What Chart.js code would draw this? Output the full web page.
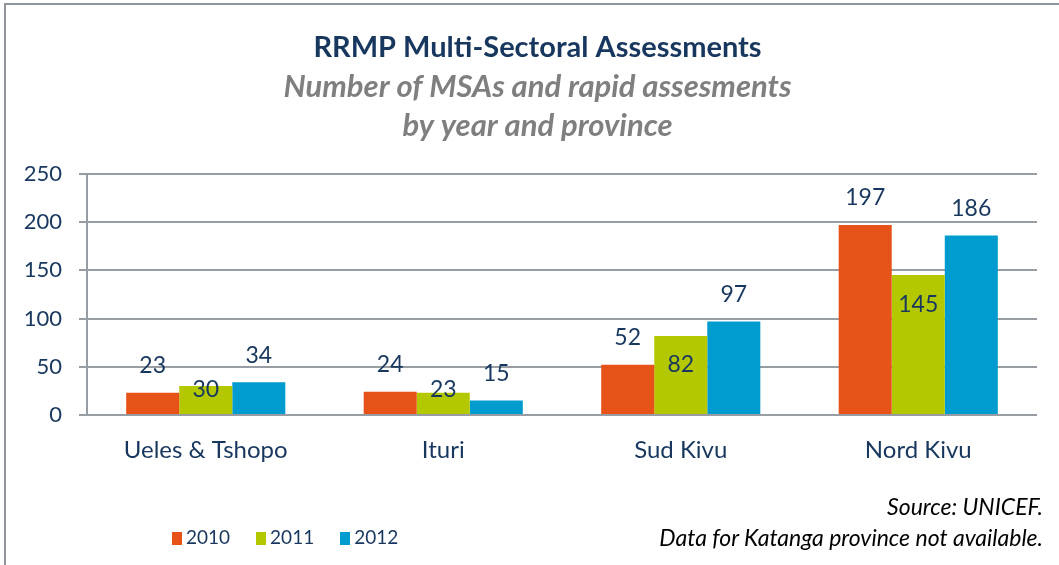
<!DOCTYPE html>
<html>
<head>
<meta charset="utf-8">
<script src="https://cdn.jsdelivr.net/npm/chart.js@4.4.0/dist/chart.umd.min.js"></script>
<style>
    html, body { margin: 0; padding: 0; background: #fff; }
    #wrap { position: relative; width: 1059px; height: 565px; overflow: hidden; font-family: Lato, "Noto Sans", sans-serif; }
    #frame { position: absolute; left: 4px; top: 3px; width: 1100px; height: 600px; border-left: 2px solid #8f959b; border-top: 2px solid #8f959b; }
    #chart { position: absolute; left: 0; top: 0; }
    #legend { position: absolute; left: 172px; top: 525px; font-size: 19px; color: #17375e; white-space: nowrap; }
    #legend span.item { display: inline-block; margin-right: 26px; }
    #legend span.box { display: inline-block; width: 10px; height: 13px; margin-right: 4px; vertical-align: -1px; }
    #source { position: absolute; right: 16px; top: 491px; font-size: 23px; font-style: italic; color: #000; text-align: right; line-height: 31px; }
</style>
</head>
<body>
<div id="wrap">
    <div id="frame"></div>
    <canvas id="chart" width="1097" height="565"></canvas>
    <div id="legend"></div>
    <div id="source">Source: UNICEF.<br>Data for Katanga province not available.</div>
</div>
<script>
// data
const provinces = ['Ueles & Tshopo', 'Ituri', 'Sud Kivu', 'Nord Kivu'];
const years = ['2010', '2011', '2012'];
const values2010 = [23, 24, 52, 197];
const values2011 = [30, 23, 82, 145];
const values2012 = [34, 15, 97, 186];
const yTicks = [0, 50, 100, 150, 200, 250];

const colors = ['#e65217', '#b4c800', '#009ccf'];
const navy = '#17375e';
const gridGray = '#979da3';
const fontFamily = 'Lato, "Noto Sans", sans-serif';

// 2011 labels sit inside the bar top, the others above it
const labelInside = [false, true, false];

const valueLabels = {
    id: 'valueLabels',
    afterDatasetsDraw(chart) {
        const ctx = chart.ctx;
        const base = chart.scales.y.getPixelForValue(0);
        ctx.save();
        ctx.font = '23px ' + fontFamily;
        ctx.fillStyle = navy;
        ctx.textAlign = 'center';
        ctx.textBaseline = 'middle';
        chart.data.datasets.forEach((ds, i) => {
            chart.getDatasetMeta(i).data.forEach((bar, j) => {
                let y;
                if (labelInside[i]) {
                    y = Math.min(bar.y + 29, base - 25);
                } else {
                    y = bar.y - 27;
                }
                ctx.fillText(String(ds.data[j]), bar.x, y);
            });
        });
        ctx.restore();
    }
};

const ctx = document.getElementById('chart').getContext('2d');
const chart = new Chart(ctx, {
    type: 'bar',
    data: {
        labels: provinces,
        datasets: [values2010, values2011, values2012].map((vals, i) => ({
            label: years[i],
            data: vals,
            backgroundColor: colors[i],
            borderWidth: 0,
            categoryPercentage: 0.67,
            barPercentage: 1.0
        }))
    },
    options: {
        responsive: false,
        animation: false,
        events: [],
        layout: {
            // canvas is wider than the page so the titles centre like the original
            padding: {left: 0, right: 22, top: 0, bottom: 90}
        },
        plugins: {
            legend: { display: false },
            tooltip: { enabled: false },
            title: {
                display: true,
                text: 'RRMP Multi-Sectoral Assessments',
                color: navy,
                font: { family: fontFamily, size: 29, weight: 'bold', lineHeight: 1.2 },
                padding: { top: 30, bottom: 3 }
            },
            subtitle: {
                display: true,
                text: ['Number of MSAs and rapid assesments', 'by year and province'],
                color: '#7f7f7f',
                font: { family: fontFamily, size: 31, weight: 'bold', style: 'italic', lineHeight: 1.258 },
                padding: { top: 0, bottom: 28 }
            }
        },
        scales: {
            x: {
                grid: { display: false, drawTicks: false },
                border: { display: false },
                ticks: {
                    color: navy,
                    padding: 21,
                    font: { family: fontFamily, size: 24 }
                },
                afterFit: function(scale) { scale.height = 60; }
            },
            y: {
                min: 0,
                max: 250,
                afterBuildTicks: function(scale) {
                    scale.ticks = yTicks.map(v => ({ value: v }));
                },
                grid: {
                    color: gridGray,
                    lineWidth: 2,
                    tickLength: 8
                },
                border: { color: gridGray, width: 2 },
                ticks: {
                    color: navy,
                    padding: 17,
                    font: { family: fontFamily, size: 22 }
                },
                afterFit: function(scale) { scale.width = 87; }
            },
            // empty spacer on the right, keeps the plot ending at the same place
            spacer: {
                type: 'linear',
                position: 'right',
                display: true,
                grid: { display: false, drawOnChartArea: false },
                border: { display: false },
                ticks: { display: false },
                afterFit: function(scale) { scale.width = 38; }
            }
        }
    },
    plugins: [valueLabels]
});

// legend built from the same series names and colours
const legendEl = document.getElementById('legend');
years.forEach((y, i) => {
    const item = document.createElement('span');
    item.className = 'item';
    item.innerHTML = '<span class="box" style="background:' + colors[i] + '"></span>' + y;
    legendEl.appendChild(item);
});
</script>
</body>
</html>
